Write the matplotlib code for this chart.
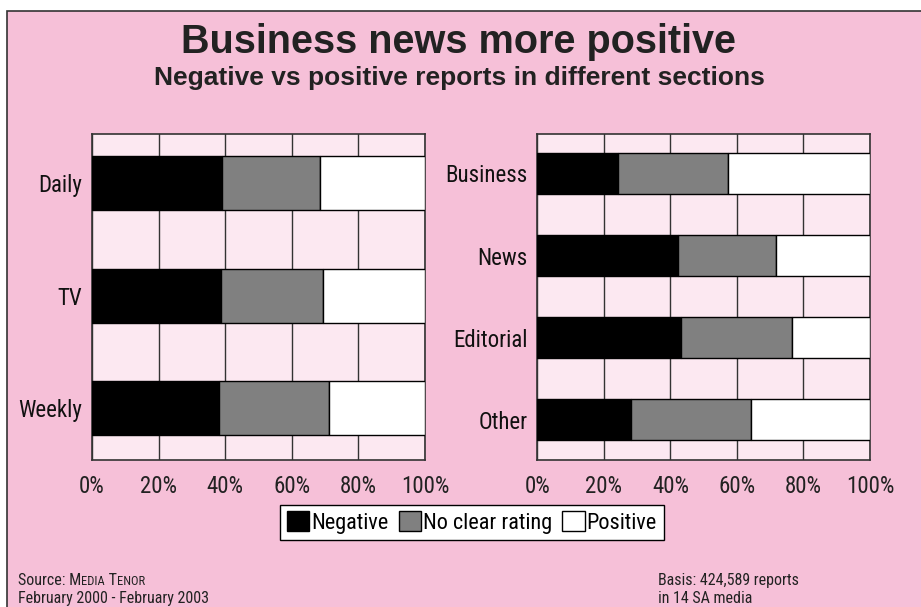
import matplotlib
matplotlib.use('Agg')
import matplotlib.pyplot as plt
from matplotlib import font_manager
from matplotlib.patches import Rectangle, Patch
import numpy as np

# values in percent
media = ['Daily', 'TV', 'Weekly']
media_negative = [39.0, 38.6, 38.0]
media_no_rating = [29.5, 30.9, 33.1]
media_positive = [31.5, 30.5, 28.9]

sections = ['Business', 'News', 'Editorial', 'Other']
section_negative = [24.3, 42.4, 43.3, 28.2]
section_no_rating = [33.1, 29.3, 33.2, 36.0]
section_positive = [42.6, 28.3, 23.5, 35.8]

ticks = [0, 20, 40, 60, 80, 100]
tick_labels = ['0%', '20%', '40%', '60%', '80%', '100%']

PINK = '#f6c0d8'
LIGHT = '#fce8f1'
EDGE = '#333333'

# pick a narrow face if there is one
installed = {f.name for f in font_manager.fontManager.ttflist}
narrow_name = 'DejaVu Sans'
for name in ['Liberation Sans Narrow', 'Roboto Condensed', 'Open Sans Condensed',
             'DejaVu Sans Condensed', 'Noto Sans Condensed', 'Roboto']:
    if name in installed:
        narrow_name = name
        break
NARROW = [narrow_name, 'DejaVu Sans']
scale = 1.0 if 'Narrow' in narrow_name or 'Condensed' in narrow_name else 0.85

plt.rcParams['font.family'] = ['Liberation Sans', 'DejaVu Sans']

fig = plt.figure(figsize=(9.21, 6.07), dpi=100, facecolor='white')
# pink panel with a frame on top and left
fig.patches.append(Rectangle((7 / 921, -0.1), 1.2, 1.1 - 10.5 / 607,
                             transform=fig.transFigure, facecolor=PINK,
                             edgecolor=EDGE, linewidth=1.2, zorder=-10))

fig.text(0.498, 1 - 42 / 607, 'Business news more positive', ha='center', va='center',
         fontsize=28.5, fontweight='bold', color='#222222')
fig.text(0.499, 1 - 78 / 607, 'Negative vs positive reports in different sections',
         ha='center', va='center', fontsize=19, fontweight='bold', color='#222222')


def draw_panel(rect, labels, neg, mid, pos, bar_h, margin):
    ax = fig.add_axes(rect)
    ax.set_facecolor(LIGHT)
    y = np.arange(len(labels))
    neg = np.array(neg)
    mid = np.array(mid)
    pos = np.array(pos)
    ax.barh(y, neg, height=bar_h, color='black', edgecolor='black', linewidth=1, zorder=3)
    ax.barh(y, mid, left=neg, height=bar_h, color='#808080', edgecolor='black',
            linewidth=1, zorder=3)
    ax.barh(y, pos, left=neg + mid, height=bar_h, color='white', edgecolor='black',
            linewidth=1, zorder=3)
    ax.set_xlim(0, 100)
    ax.set_ylim(len(labels) - 1 + bar_h / 2 + margin[1], -bar_h / 2 - margin[0])
    ax.set_xticks(ticks)
    ax.set_xticklabels(tick_labels, fontfamily=NARROW, fontsize=16.5 * scale, color='#222222')
    ax.set_yticks(y)
    ax.set_yticklabels(labels, fontfamily=NARROW, fontsize=16.5 * scale, color='#111111')
    ax.tick_params(axis='x', length=0, pad=11)
    ax.tick_params(axis='y', length=0, pad=7)
    ax.grid(axis='x', color=EDGE, linewidth=1, zorder=1)
    ax.set_axisbelow(True)
    for s in ax.spines.values():
        s.set_color(EDGE)
        s.set_linewidth(1.2)
    return ax


draw_panel([92 / 921, 1 - 460 / 607, 333 / 921, 326 / 607], media,
           media_negative, media_no_rating, media_positive, 0.48, (0.2, 0.22))
draw_panel([537.3 / 921, 1 - 460 / 607, 332.7 / 921, 326 / 607], sections,
           section_negative, section_no_rating, section_positive, 0.5, (0.23, 0.24))

handles = [Patch(facecolor='black', edgecolor='black', label='Negative'),
           Patch(facecolor='#808080', edgecolor='black', label='No clear rating'),
           Patch(facecolor='white', edgecolor='black', label='Positive')]
leg = fig.legend(handles=handles, loc='center', bbox_to_anchor=(472 / 921, 1 - 522.5 / 607),
                 ncol=3, frameon=True, fancybox=False, handlelength=1.0, handleheight=1.0,
                 handletextpad=0.1, columnspacing=0.45, borderpad=0.3,
                 prop={'family': NARROW, 'size': 16 * scale})
leg.get_frame().set_edgecolor('black')
leg.get_frame().set_linewidth(1)
leg.get_frame().set_facecolor('white')
leg.get_frame().set_alpha(1)

# footer, small caps done by hand
foot = dict(fontfamily=NARROW, color='#222222', va='baseline')
big = 11.5 * scale
small = 9 * scale
renderer = fig.canvas.get_renderer()
t = fig.text(18 / 921, 1 - 585 / 607, 'Source: M', fontsize=big, **foot)
for piece, size in [('EDIA', small), (' T', big), ('ENOR', small)]:
    x1 = t.get_window_extent(renderer).x1 / fig.bbox.width
    t = fig.text(x1, 1 - 585 / 607, piece, fontsize=size, **foot)
fig.text(18 / 921, 1 - 603 / 607, 'February 2000 - February 2003', fontsize=big, **foot)
fig.text(658 / 921, 1 - 585 / 607, 'Basis: 424,589 reports', fontsize=big, **foot)
fig.text(658 / 921, 1 - 603 / 607, 'in 14 SA media', fontsize=big, **foot)

fig.savefig('out.png', dpi=100, facecolor=fig.get_facecolor())
